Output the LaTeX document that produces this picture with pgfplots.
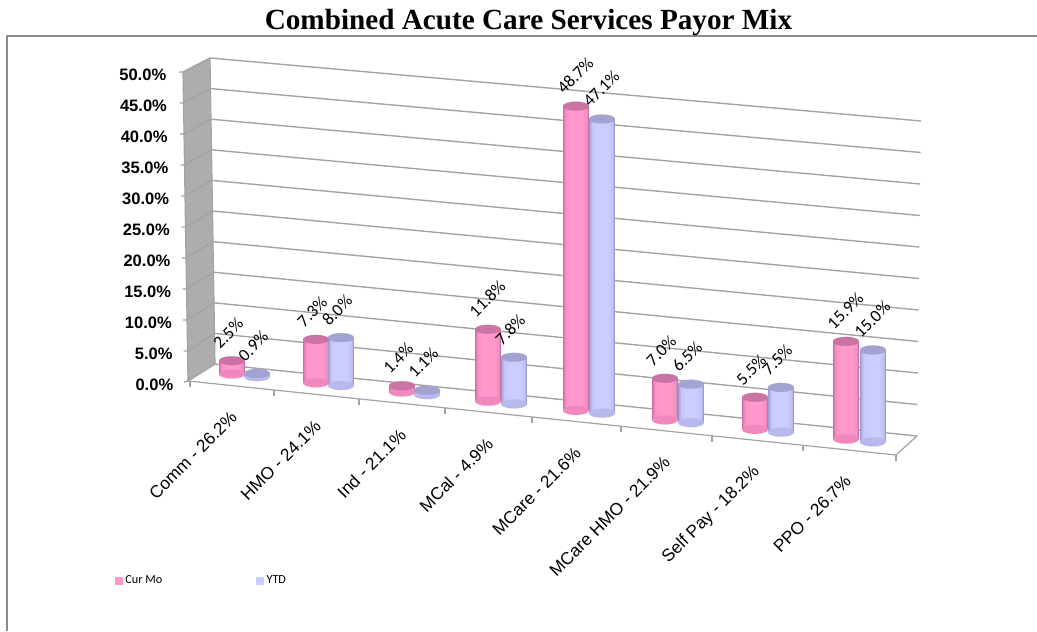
\documentclass[border=0pt]{standalone}
\usepackage{fontspec}
\usepackage{pgfplots}
\usepackage{pgfplotstable}
\pgfplotsset{compat=1.18}
\setmainfont{Liberation Sans}
\newfontfamily\titlefont{Liberation Serif}
\newfontfamily\calfont{Carlito}

\definecolor{framegray}{HTML}{8C8C8C}
\definecolor{gridgray}{HTML}{A3A3A3}
\definecolor{wallgray}{HTML}{ADADAD}
\definecolor{curhi}{HTML}{FF99CC}
\definecolor{curedge}{HTML}{CC6FA6}
\definecolor{curcap}{HTML}{CB73A3}
\definecolor{curbase}{HTML}{F088BE}
\definecolor{ytdhi}{HTML}{CCCCFF}
\definecolor{ytdedge}{HTML}{9A9ACC}
\definecolor{ytdcap}{HTML}{A3A3D1}
\definecolor{ytdbase}{HTML}{B8B8EC}

% x = bar centre in pixels, val = percent
\pgfplotstableread{
x val
232 2.5
316 7.3
402 1.4
488 11.8
576 48.7
665 7.0
755 5.5
846 15.9
}\curdata
\pgfplotstableread{
x val
257 0.9
341 8.0
427 1.1
514 7.8
602 47.1
691 6.5
781 7.5
873 15.0
}\ytddata

% floor line and bar height, in pixels
\newcommand{\basey}{(374+0.106*(\thisrow{x}-232))}
\newcommand{\barh}{(6.3*\thisrow{val}-2.5)}

% bottom ellipse: table, width px, colour
\newcommand{\cylbase}[3]{%
  \addplot[forget plot, only marks, mark=*, mark size=#2*0.375pt,
    mark options={draw=#3, line width=0.1pt, fill=#3, yscale=9/#2}]
    table[x=x, y expr=\basey] {#1};
}
% body of a shading layer: table, width px, colour
\newcommand{\cylbody}[3]{%
  \addplot[forget plot, draw=none, no markers,
    error bars/.cd, y dir=minus, y explicit, error mark=none,
    error bar style={draw=#3, solid, line width=#2*0.75pt}]
    table[x=x, y expr=\basey, y error minus expr=\barh] {#1};
}
% cap with the value label: table, colour
\newcommand{\cylcap}[2]{%
  \addplot[forget plot, only marks, mark=*, mark size=9.75pt,
    mark options={draw=#2, line width=0.1pt, fill=#2, yscale=9/26},
    point meta=explicit,
    nodes near coords={\pgfmathprintnumber[fixed,fixed zerofill,precision=1,assume math mode=true]{\pgfplotspointmeta}\%},
    every node near coord/.append style={xshift=-12pt, yshift=11.5pt, anchor=west, rotate=45,
      inner sep=0pt, text=black, font=\calfont\fontsize{13}{15}\selectfont}]
    table[x=x, y expr=\basey-\barh, meta=val] {#1};
}
% whole set of cylinders: table, highlight, edge, cap, base
\newcommand{\cylinders}[5]{%
  \cylbase{#1}{26}{#5}
  \cylbody{#1}{26}{#3}
  \cylbody{#1}{24.5}{#2!35!#3}
  \cylbody{#1}{23}{#2!60!#3}
  \cylbody{#1}{21}{#2!80!#3}
  \cylbody{#1}{18}{#2!92!#3}
  \cylbody{#1}{13}{#2}
  \cylcap{#1}{#4}
}
% plain line in pixel coordinates
\newcommand{\gridl}[8]{%
  \addplot[forget plot, gridgray, line width=1.05pt] coordinates {(#1,#2) (#3,#4) (#5,#6) (#7,#8)};
}
\newcommand{\seg}[4]{%
  \addplot[forget plot, gridgray, line width=0.9pt] coordinates {(#1,#2) (#3,#4)};
}
\newcommand{\ylab}[3]{\node[anchor=east, inner sep=0pt, font=\bfseries\fontsize{12.4}{14}\selectfont] at (axis cs:#1,#2) {#3};}
\newcommand{\xlab}[3]{\node[anchor=east, inner sep=0pt, rotate=45, font=\fontsize{13}{15}\selectfont] at (axis cs:#1,#2) {#3};}

\begin{document}
\begin{tikzpicture}
\path[use as bounding box] (0,0) rectangle (777.75pt,473.25pt);
\begin{axis}[
    at={(0,0)}, anchor=south west,
    scale only axis, width=777.75pt, height=473.25pt,
    xmin=0, xmax=1037, ymin=0, ymax=631, y dir=reverse,
    hide axis, clip=false,
    legend style={at={(axis cs:115,581)}, anchor=west, draw=none, fill=none,
      legend columns=2, font=\calfont\fontsize{9.2}{11}\selectfont, inner sep=0pt,
      /tikz/every even column/.style={column sep=68.5pt}},
    legend cell align=left,
]
% frame
\addplot[forget plot, framegray, line width=1.1pt] coordinates {(7,631) (7,36) (1037,36)};

% side wall
\addplot[forget plot, draw=none, fill=wallgray] coordinates {(183,72) (210,58) (215,364) (188,381)} -- cycle;
\seg{183}{72}{188}{381}
\seg{210}{58}{215}{364}

% gridlines: tick, front of wall, back of wall, right end
\gridl{179}{72}{183}{72}{210}{58}{921}{121}
\gridl{179.5}{103}{183.5}{103}{210.5}{88.6}{920.6}{152.5}
\gridl{180}{134}{184}{134}{211}{119.2}{920.2}{184}
\gridl{180.5}{165}{184.5}{165}{211.5}{149.8}{919.8}{215.5}
\gridl{181}{196}{185}{196}{212}{180.4}{919.4}{247}
\gridl{181.5}{227}{185.5}{227}{212.5}{211}{919}{278.5}
\gridl{182}{258}{186}{258}{213}{241.6}{918.6}{310}
\gridl{182.5}{289}{186.5}{289}{213.5}{272.2}{918.2}{341.5}
\gridl{183}{320}{187}{320}{214}{302.8}{917.8}{373}
\gridl{183.5}{351}{187.5}{351}{214.5}{333.4}{917.4}{404.5}
\gridl{184}{382}{188}{381}{215}{364}{917}{436}

% floor
\seg{188}{381}{896}{455}
\seg{896}{455}{917}{436}
\seg{190}{381}{190}{387}
\seg{274}{390}{274}{396}
\seg{359}{399}{359}{405}
\seg{445}{408}{445}{414}
\seg{532}{417}{532}{423}
\seg{621}{426}{621}{432}
\seg{712}{436}{712}{442}
\seg{803}{445}{803}{451}
\seg{896}{455}{896}{461}

% bars
\cylinders{\curdata}{curhi}{curedge}{curcap}{curbase}
\cylinders{\ytddata}{ytdhi}{ytdedge}{ytdcap}{ytdbase}

% value axis labels
\ylab{166.5}{75}{50.0\%}
\ylab{167.2}{106}{45.0\%}
\ylab{167.9}{137}{40.0\%}
\ylab{168.6}{168}{35.0\%}
\ylab{169.3}{199}{30.0\%}
\ylab{170}{230}{25.0\%}
\ylab{170.7}{261}{20.0\%}
\ylab{171.4}{292}{15.0\%}
\ylab{172.1}{323}{10.0\%}
\ylab{172.8}{354}{5.0\%}
\ylab{173.5}{385}{0.0\%}

% category labels
\xlab{234}{414}{Comm - 26.2\%}
\xlab{318}{423}{HMO - 24.1\%}
\xlab{403}{432}{Ind - 21.1\%}
\xlab{490}{441}{MCal - 4.9\%}
\xlab{578}{450}{MCare - 21.6\%}
\xlab{667}{459}{MCare HMO - 21.9\%}
\xlab{757}{469}{Self Pay - 18.2\%}
\xlab{848}{478}{PPO - 26.7\%}

% title
\node[anchor=center, inner sep=0pt, font=\titlefont\bfseries\fontsize{21.9}{24}\selectfont] at (axis cs:528.5,22.5) {Combined Acute Care Services Payor Mix};

% legend
\addlegendimage{legend image code/.code={\fill[curhi] (0pt,-2.6pt) rectangle (5.2pt,2.6pt);}}
\addlegendentry{Cur Mo}
\addlegendimage{legend image code/.code={\fill[ytdhi] (0pt,-2.6pt) rectangle (5.2pt,2.6pt);}}
\addlegendentry{YTD}
\end{axis}
\end{tikzpicture}
\end{document}
